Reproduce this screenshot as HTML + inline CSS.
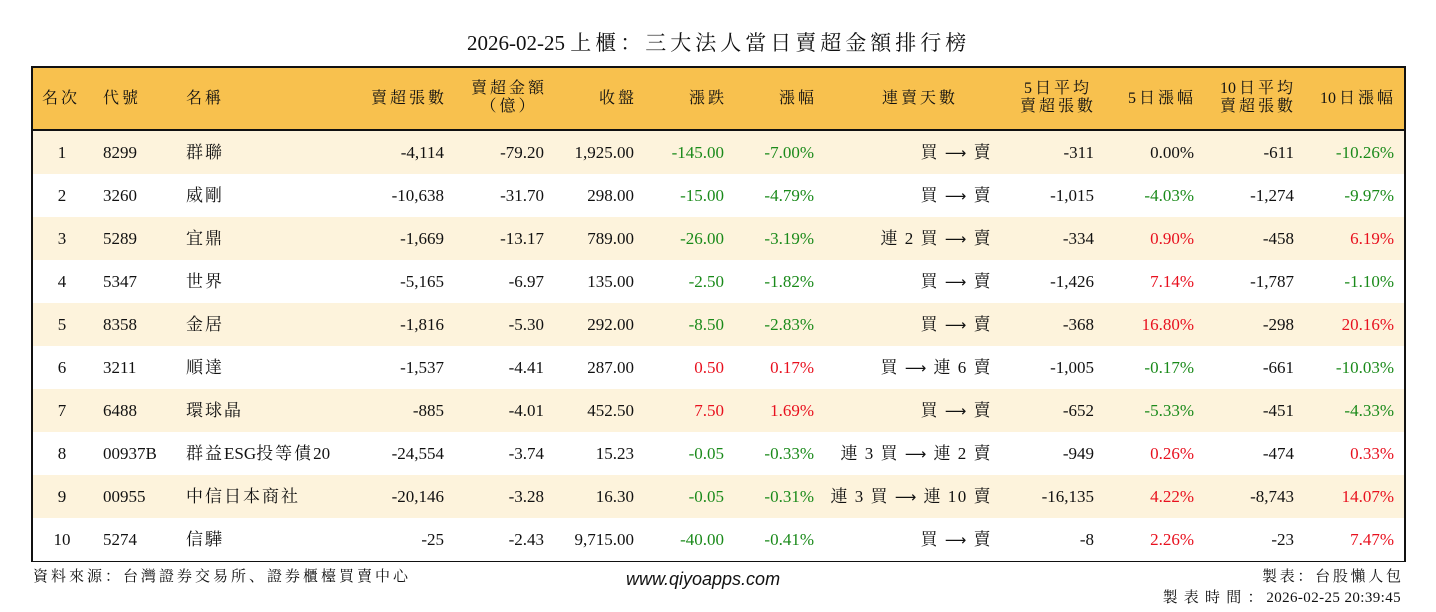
<!DOCTYPE html>
<html><head><meta charset="utf-8">
<style>
body{margin:0;width:1436px;height:612px;background:#fff;position:relative;overflow:hidden;font-family:"Liberation Serif","Noto Serif CJK SC",serif;color:#111}
.t{position:absolute;white-space:nowrap;font-size:17px;line-height:20px}
#box{position:absolute;left:31px;top:66px;width:1371px;height:492px;border:2px solid #111}
.row{position:absolute;left:0;width:1371px;height:43px}
.g{color:#1a8a1a}.r{color:#e8101e}
.h{font-size:16px;letter-spacing:3px;line-height:18px;text-align:right}
.ar{font-family:"DejaVu Sans",sans-serif;font-size:15px}
.j{display:inline-block;text-align:justify;text-align-last:justify;vertical-align:top}
</style></head><body>
<div class="t" style="left:467px;top:31px;font-size:21px;line-height:24px">2026-02-25 <span class="j" style="width:396px">上櫃：三大法人當日賣超金額排行榜</span></div>
<div id="box">
<div class="row" style="top:0;height:61px;background:#f8c14e;border-bottom:2px solid #111"></div>
</div>
<div class="t" style="left:33px;top:567px;font-size:15px"><span class="j" style="width:375px">資料來源：台灣證券交易所、證券櫃檯買賣中心</span></div>
<div class="t" style="left:626px;top:569px;font-size:18px;font-style:italic;font-family:'Liberation Sans',sans-serif">www.qiyoapps.com</div>
<div class="t" style="left:1262px;top:567px;font-size:15px"><span class="j" style="width:139px">製表：台股懶人包</span></div>
<div class="t" style="right:35px;top:588px;font-size:15px"><span class="j" style="width:100px">製表時間：</span> <span style="letter-spacing:0.4px">2026-02-25 20:39:45</span></div>
<script>
const ranks=[1,2,3,4,5,6,7,8,9,10];
const codes=["8299","3260","5289","5347","8358","3211","6488","00937B","00955","5274"];
const names=["群聯","威剛","宜鼎","世界","金居","順達","環球晶","群益ESG投等債20","中信日本商社","信驊"];
const sellVol=["-4,114","-10,638","-1,669","-5,165","-1,816","-1,537","-885","-24,554","-20,146","-25"];
const sellAmt=["-79.20","-31.70","-13.17","-6.97","-5.30","-4.41","-4.01","-3.74","-3.28","-2.43"];
const closes=["1,925.00","298.00","789.00","135.00","292.00","287.00","452.50","15.23","16.30","9,715.00"];
const changes=["-145.00","-15.00","-26.00","-2.50","-8.50","0.50","7.50","-0.05","-0.05","-40.00"];
const pcts=["-7.00%","-4.79%","-3.19%","-1.82%","-2.83%","0.17%","1.69%","-0.33%","-0.31%","-0.41%"];
const streaks=["買 → 賣","買 → 賣","連 2 買 → 賣","買 → 賣","買 → 賣","買 → 連 6 賣","買 → 賣","連 3 買 → 連 2 賣","連 3 買 → 連 10 賣","買 → 賣"];
const avg5=["-311","-1,015","-334","-1,426","-368","-1,005","-652","-949","-16,135","-8"];
const pct5=["0.00%","-4.03%","0.90%","7.14%","16.80%","-0.17%","-5.33%","0.26%","4.22%","2.26%"];
const avg10=["-611","-1,274","-458","-1,787","-298","-661","-451","-474","-8,743","-23"];
const pct10=["-10.26%","-9.97%","6.19%","-1.10%","20.16%","-10.03%","-4.33%","0.33%","14.07%","7.47%"];
const box=document.getElementById('box');
function cell(parent,txt,x,align,cls,y,name){
  const d=document.createElement('div');
  d.className='t '+(cls||'');
  d.textContent=txt;
  
  
  d.style.top=y+'px';
  if(align==='r'){d.style.right=(1371-x)+'px';}
  else if(align==='c'){d.style.left=(x-40)+'px';d.style.width='80px';d.style.textAlign='center';}
  else d.style.left=x+'px';
  parent.appendChild(d);return d;
}
function col(v){return v.startsWith('-')?'g':(parseFloat(v)===0?'':'r');}
const hdr=box.firstElementChild;
const H=[["名次",9,'l'],["代號",70,'l'],["名稱",153,'l'],["賣超張數",411,'r'],["賣超金額\n（億）",511,'r'],["收盤",601,'r'],["漲跌",691,'r'],["漲幅",781,'r'],["連賣天數",922,'r'],["5日平均\n賣超張數",1060,'r'],["5日漲幅",1160,'r'],["10日平均\n賣超張數",1260,'r'],["10日漲幅",1360,'r']];
H.forEach(h=>{
  const two=h[0].includes('\n');
  const d=cell(hdr,'',h[1],h[2],'h',two?12:22,'header-'+h[0].replace('\n',''));
  d.style.whiteSpace='pre';d.style.textAlign=two?'center':'left';
  if(h[2]==='r')d.style.right=(1371-h[1]-3)+'px';
  d.innerHTML=h[0].replace(/10/g,'<span style="letter-spacing:0">1</span>0');
});
ranks.forEach((rk,i)=>{
  const row=document.createElement('div');
  row.className='row';
  
  
  row.style.top=(63+i*43)+'px';
  row.style.background=i%2===0?'#fdf3dc':'#fff';
  box.appendChild(row);
  const y=12;
  cell(row,String(rk),29,'c','',y,'rank');
  cell(row,codes[i],70,'l','',y,'code');
  const n=cell(row,'',153,'l','',y,'name');
  n.innerHTML=names[i].replace(/([\u4e00-\u9fff])/g,'<span style="letter-spacing:2px">$1</span>');
  cell(row,sellVol[i],411,'r','',y,'sell-volume');
  cell(row,sellAmt[i],511,'r','',y,'sell-amount');
  cell(row,closes[i],601,'r','',y,'close');
  cell(row,changes[i],691,'r',col(changes[i]),y,'change');
  cell(row,pcts[i],781,'r',col(pcts[i]),y,'change-pct');
  const s=cell(row,'',959,'r','',y,'streak');
  s.style.letterSpacing='1.5px';
  s.innerHTML=streaks[i].replace('→','<span class="ar">⟶</span>');
  cell(row,avg5[i],1061,'r','',y,'avg5-sell');
  cell(row,pct5[i],1161,'r',col(pct5[i]),y,'pct5');
  cell(row,avg10[i],1261,'r','',y,'avg10-sell');
  cell(row,pct10[i],1361,'r',col(pct10[i]),y,'pct10');
});
</script>
</body></html>
